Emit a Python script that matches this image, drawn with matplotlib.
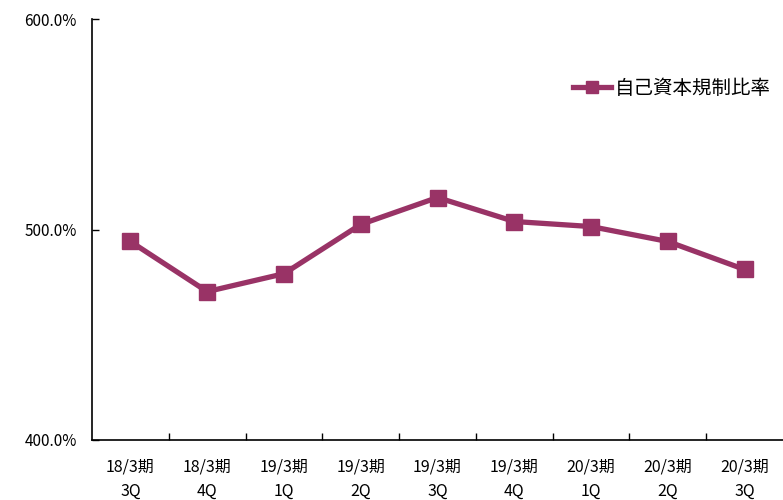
import matplotlib
matplotlib.use("Agg")
import matplotlib.pyplot as plt
from matplotlib.ticker import FixedLocator, FuncFormatter

plt.rcParams['font.family'] = ['Noto Sans CJK JP', 'DejaVu Sans']

categories = ["18/3期\n3Q", "18/3期\n4Q", "19/3期\n1Q", "19/3期\n2Q", "19/3期\n3Q",
              "19/3期\n4Q", "20/3期\n1Q", "20/3期\n2Q", "20/3期\n3Q"]
ratio = [494.3, 470.5, 479.0, 502.4, 515.2, 503.8, 501.4, 494.3, 481.0]
series_name = "自己資本規制比率"
yticks = [400, 500, 600]

color = "#993366"

fig = plt.figure(figsize=(7.83, 5.0), dpi=100)
ax = fig.add_axes([92/783, 60/500, 1 - 92/783, 421/500])

x = list(range(len(categories)))
ax.plot(x, ratio, color=color, linewidth=3.8, marker='s', markersize=12,
        markerfacecolor=color, markeredgecolor=color, label=series_name,
        solid_joinstyle='miter', clip_on=False)

ax.set_xlim(-0.5, len(categories) - 0.5)
ax.set_ylim(400, 600)

ax.set_yticks(yticks)
ax.yaxis.set_major_formatter(FuncFormatter(lambda v, p: f"{v:.1f}%"))
ax.tick_params(axis='y', direction='in', length=5, width=1, pad=11, labelsize=11, colors='black')

ax.set_xticks(x)
ax.set_xticklabels(categories, linespacing=1.6)
ax.xaxis.set_minor_locator(FixedLocator([i + 0.5 for i in range(len(categories) - 1)]))
ax.tick_params(axis='x', which='major', length=0, pad=13, labelsize=11.5)
ax.tick_params(axis='x', which='minor', direction='in', length=5, width=1)

for s in ['top', 'right']:
    ax.spines[s].set_visible(False)
for s in ['left', 'bottom']:
    ax.spines[s].set_linewidth(1.2)

leg = ax.legend(loc='center right', bbox_to_anchor=(1.0, 1 - 69/421), frameon=False,
                fontsize=14, handlelength=2.0, handletextpad=0.2, markerscale=0.75,
                borderaxespad=0.2)

fig.savefig("out.png", dpi=100)
